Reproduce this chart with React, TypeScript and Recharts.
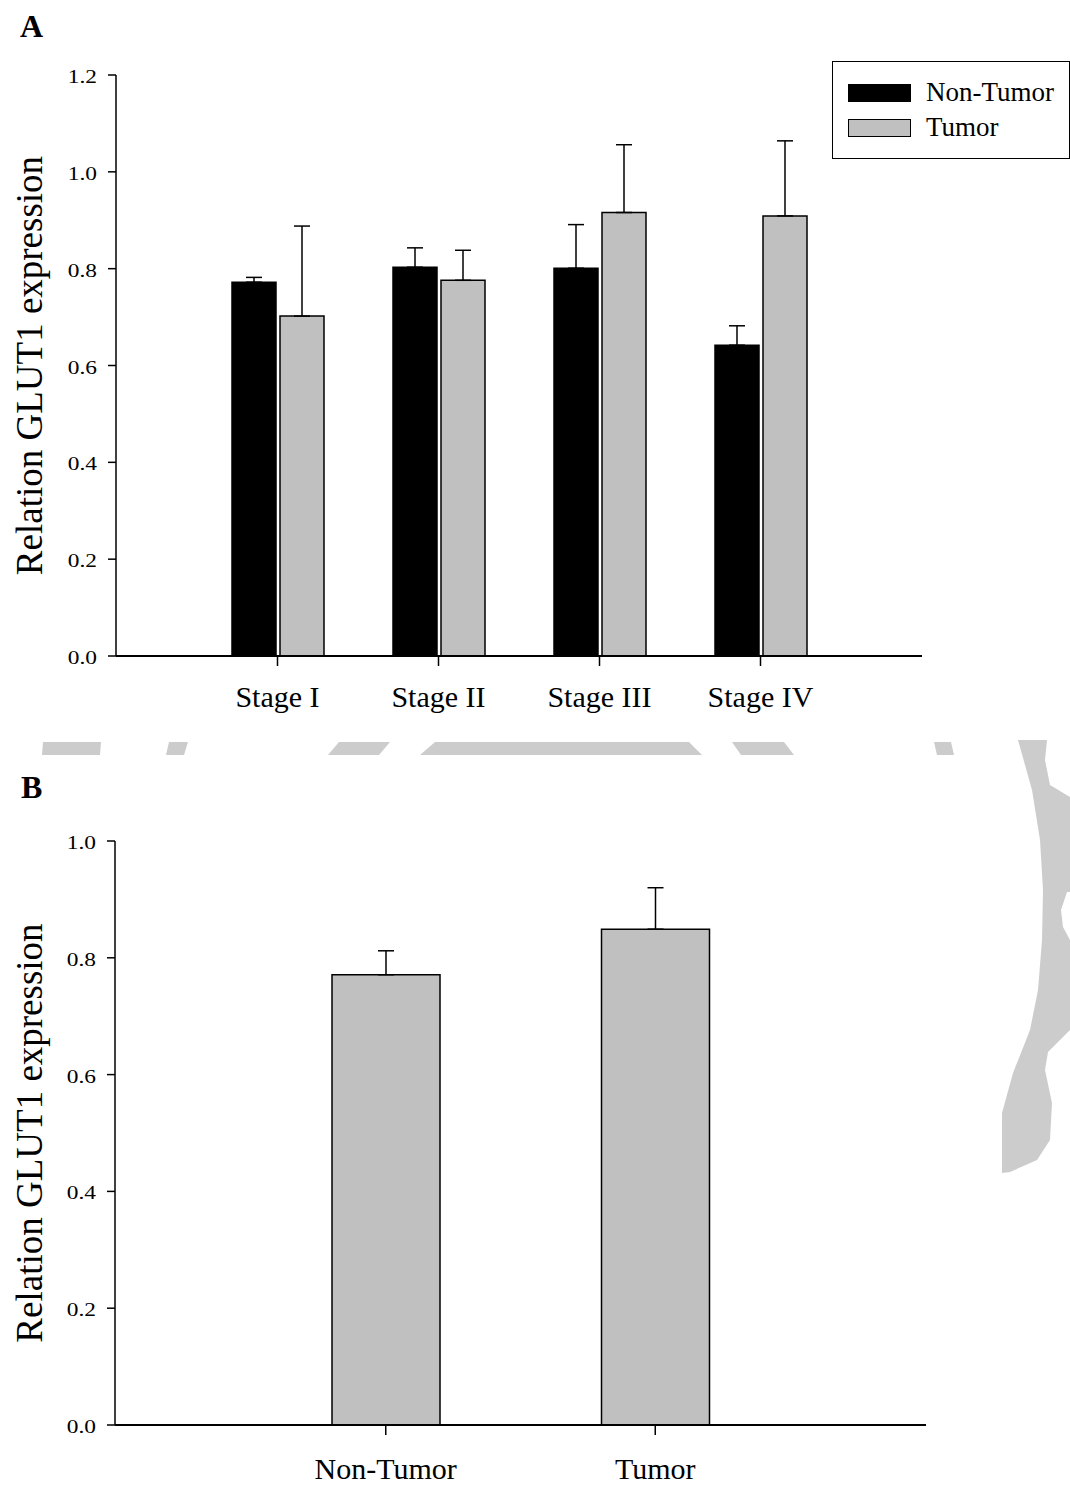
import React from "react";
import { Bar, BarChart, ErrorBar, Legend, XAxis, YAxis } from "recharts";

const FONT = '"Liberation Serif", "Times New Roman", serif';

// panel A: GLUT1 by stage
const stages = ["Stage I", "Stage II", "Stage III", "Stage IV"];
const nonTumorByStage = [0.772, 0.803, 0.801, 0.642];
const nonTumorSem = [0.01, 0.04, 0.09, 0.04];
const tumorByStage = [0.702, 0.776, 0.916, 0.909];
const tumorSem = [0.186, 0.062, 0.14, 0.155];
const ticksA = [0, 0.2, 0.4, 0.6, 0.8, 1.0, 1.2];

// panel B: overall
const groups = ["Non-Tumor", "Tumor"];
const overall = [0.771, 0.849];
const overallSem = [0.041, 0.071];
const ticksB = [0, 0.2, 0.4, 0.6, 0.8, 1.0];

const stageData = stages.map((name, i) => ({
  name,
  nonTumor: nonTumorByStage[i],
  nonTumorErr: [0, nonTumorSem[i]],
  tumor: tumorByStage[i],
  tumorErr: [0, tumorSem[i]],
}));

const overallData = groups.map((name, i) => ({
  name,
  value: overall[i],
  err: [0, overallSem[i]],
}));

const fmt = (v: number) => v.toFixed(1);

// the y tick numbers in the source are drawn a bit wide
const YTick = (p: any) => (
  <text
    x={0}
    y={0}
    dy={2}
    transform={`translate(${p.x},${p.y}) scale(1.3,1)`}
    textAnchor="end"
    dominantBaseline="central"
    fontSize={18}
    fontFamily={FONT}
    fill="#000"
  >
    {fmt(p.payload.value)}
  </text>
);

const yLabel = (props: any) => {
  const vb = props.viewBox || {};
  const cy = (vb.y ?? 0) + (vb.height ?? 0) / 2;
  return (
    <text
      x={29}
      y={cy}
      transform={`rotate(-90 29 ${cy})`}
      textAnchor="middle"
      dominantBaseline="central"
      fontSize={37}
      fontFamily={FONT}
      fill="#000"
    >
      Relation GLUT1 expression
    </text>
  );
};

const LegendBox = (props: any) => (
  <div
    style={{
      width: 238,
      height: 98,
      boxSizing: "border-box",
      border: "1.5px solid #000",
      background: "#fff",
      fontFamily: FONT,
      fontSize: 27,
      color: "#000",
      paddingTop: 13,
      paddingLeft: 15,
    }}
  >
    {(props.payload || []).map((p: any) => (
      <div key={p.value} style={{ display: "flex", alignItems: "center", height: 35, whiteSpace: "nowrap" }}>
        <span
          style={{
            display: "inline-block",
            flex: "none",
            width: 63,
            height: 18,
            boxSizing: "border-box",
            background: p.color,
            border: "1.5px solid #000",
            marginRight: 15,
          }}
        />
        {p.value}
      </div>
    ))}
  </div>
);

const axisLine = { stroke: "#000", strokeWidth: 2 };
const tickLine = { stroke: "#000", strokeWidth: 1.5 };

export default function App() {
  return (
    <div style={{ position: "absolute", left: 0, top: 0, width: 1070, height: 1486, background: "#fff" }}>
      <div style={{ position: "absolute", left: 0, top: 0 }}>
        <BarChart
          width={1070}
          height={740}
          data={stageData}
          margin={{ top: 75, right: 148, bottom: 24, left: 0 }}
          barGap={4}
          barSize={44}
        >
          <XAxis
            dataKey="name"
            padding={{ left: 81, right: 81 }}
            height={60}
            interval={0}
            tickSize={10}
            tickMargin={20}
            axisLine={axisLine}
            tickLine={tickLine}
            tick={{ fill: "#000", fontSize: 30, fontFamily: FONT }}
          />
          <YAxis
            width={116}
            domain={[0, 1.2]}
            ticks={ticksA}
            tickSize={8}
            tickMargin={11}
            axisLine={{ stroke: "#000", strokeWidth: 1.5 }}
            tickLine={tickLine}
            tick={YTick}
            label={yLabel}
          />
          <Bar dataKey="nonTumor" name="Non-Tumor" fill="#000" stroke="#000" strokeWidth={1.5} isAnimationActive={false}>
            <ErrorBar dataKey="nonTumorErr" width={8} stroke="#000" strokeWidth={1.5} direction="y" isAnimationActive={false} />
          </Bar>
          <Bar dataKey="tumor" name="Tumor" fill="#c0c0c0" stroke="#000" strokeWidth={1.5} isAnimationActive={false}>
            <ErrorBar dataKey="tumorErr" width={8} stroke="#000" strokeWidth={1.5} direction="y" isAnimationActive={false} />
          </Bar>
          <Legend
            content={LegendBox}
            layout="vertical"
            align="center"
            verticalAlign="middle"
            wrapperStyle={{ left: 832, top: 61, width: 238, height: 98 }}
          />
        </BarChart>
      </div>

      <div style={{ position: "absolute", left: 0, top: 740 }}>
        <BarChart
          width={1070}
          height={746}
          data={overallData}
          margin={{ top: 101, right: 144, bottom: 11, left: 0 }}
          barSize={108}
        >
          <XAxis
            dataKey="name"
            padding={{ left: 136, right: 136 }}
            height={50}
            interval={0}
            tickSize={10}
            tickMargin={23}
            axisLine={axisLine}
            tickLine={tickLine}
            tick={{ fill: "#000", fontSize: 30, fontFamily: FONT }}
          />
          <YAxis
            width={115}
            domain={[0, 1.0]}
            ticks={ticksB}
            tickSize={8}
            tickMargin={11}
            axisLine={{ stroke: "#000", strokeWidth: 1.5 }}
            tickLine={tickLine}
            tick={YTick}
            label={yLabel}
          />
          <Bar dataKey="value" fill="#c0c0c0" stroke="#000" strokeWidth={1.5} isAnimationActive={false}>
            <ErrorBar dataKey="err" width={8} stroke="#000" strokeWidth={1.5} direction="y" isAnimationActive={false} />
          </Bar>
        </BarChart>
      </div>

      {/* panel letters and the grey watermark pieces */}
      <svg width={1070} height={1486} style={{ position: "absolute", left: 0, top: 0, pointerEvents: "none" }}>
        <text x={20} y={37} fontSize={32} fontWeight="bold" fontFamily={FONT} fill="#000">A</text>
        <text x={21} y={798} fontSize={32} fontWeight="bold" fontFamily={FONT} fill="#000">B</text>
        <g fill="#cccccc">
          <polygon points="43,742 101,742 100,755 42,755" />
          <polygon points="169,742 188,742 184,755 166,755" />
          <polygon points="339,742 390,742 379,755 328,755" />
          <polygon points="435,742 689,742 702,755 420,755" />
          <polygon points="732,742 784,742 794,755 741,755" />
          <polygon points="934,742 951,742 954,755 937,755" />
          <polygon points="1018,740 1047,740 1045,760 1050,785 1070,797 1070,892 1067,892 1061,910 1063,927 1070,940 1070,1030 1048,1052 1045,1070 1052,1103 1050,1140 1037,1160 1010,1172 1002,1173 1002,1113 1013,1073 1030,1030 1038,990 1042,940 1043,890 1040,840 1032,790" />
        </g>
      </svg>
    </div>
  );
}
